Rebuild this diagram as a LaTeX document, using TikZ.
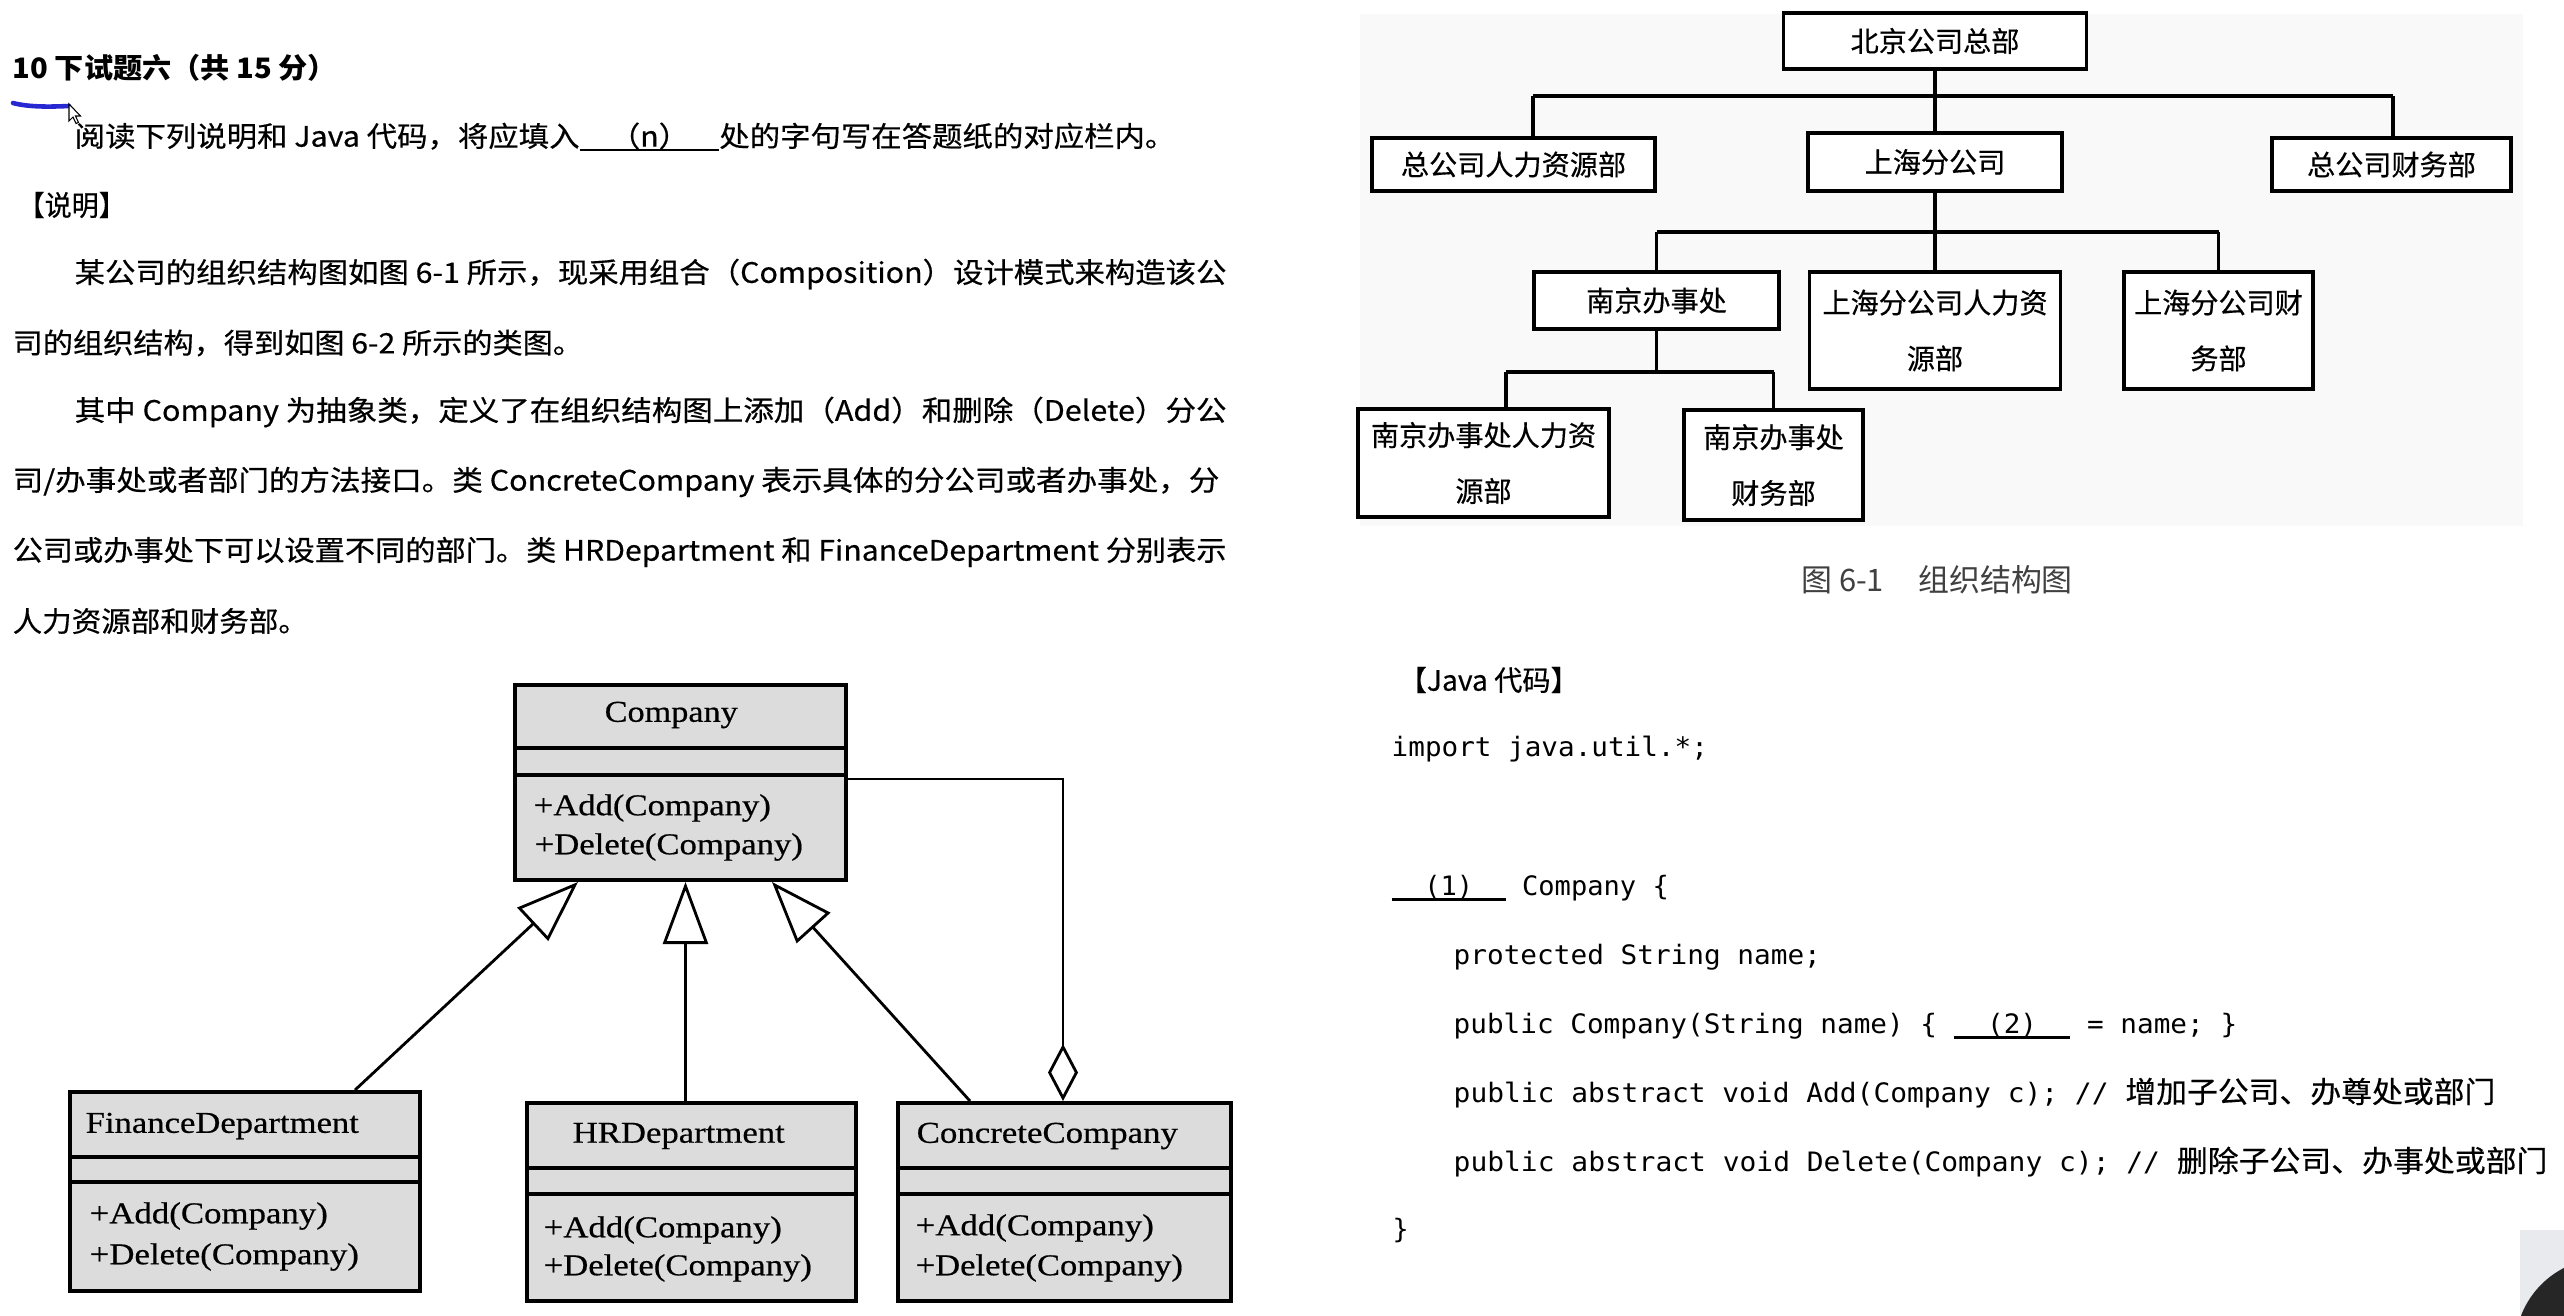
\documentclass[tikz,border=0pt]{standalone}
\usepackage{fontspec}
\usepackage{graphicx}
\usetikzlibrary{arrows.meta}
\setmainfont{Liberation Serif}
\newfontfamily\cjk[FakeBold=0.45]{Noto Sans CJK SC}
\newfontfamily\cjkt{Noto Sans CJK SC}
\newfontfamily\monof{DejaVu Sans Mono}
\newfontfamily\umlf[FakeBold=0.5]{Liberation Serif}
\definecolor{umlfill}{RGB}{220,220,220}
\definecolor{bgorg}{RGB}{249,249,249}
\definecolor{penblue}{RGB}{40,40,210}
\definecolor{camgray}{RGB}{232,234,238}
\newcommand\fitw[2]{\resizebox{#1cm}{\height}{#2}}
\newcommand\bodyblank[1]{\rlap{\rule[-0.17em]{4.6em}{0.1em}}\makebox[4.6em]{#1}}
\newcommand\codeblank[1]{\rlap{\rule[-0.2em]{4.214em}{0.09em}}\makebox[4.214em]{#1}}
\begin{document}
\begin{tikzpicture}[x=0.01cm,y=-0.01cm,
  body/.style={inner sep=0pt, anchor=west, font=\cjk\fontsize{8pt}{9.6pt}\selectfont},
  code/.style={inner sep=0pt, anchor=west, font=\monof\fontsize{7.6pt}{9pt}\selectfont},
  orgbox/.style={draw, line width=0.95pt, inner sep=0pt, align=center, fill=white,
    font=\cjk\fontsize{8pt}{15.9pt}\selectfont},
  bus/.style={line width=1.3pt},
  link/.style={line width=0.9pt},
  umlbox/.style={draw, line width=1.1pt, fill=umlfill, inner sep=0pt},
  umltxt/.style={inner sep=0pt, anchor=west, font=\umlf\fontsize{8.6pt}{10pt}\selectfont},
  sepline/.style={line width=1pt},
  gen/.style={line width=0.8pt, -{Triangle[open, length=0.62cm, width=0.45cm]}},
  agg/.style={line width=0.8pt, -{Diamond[open, length=0.57cm, width=0.30cm]}}
]
\useasboundingbox (0,0) rectangle (2564,1315);
\fill[white] (0,0) rectangle (2564,1315);
\fill[bgorg] (1360,14) rectangle (2523,526);

% ---------- left text ----------
\node[body] (title) at (12,68) {\fitw{3.24}{\cjkt\bfseries 10 下试题六（共 15 分）}};
\draw[penblue, line width=1.3pt, line cap=round] (13,103) .. controls (28,107) and (48,107) .. (69,106);
\draw[black, fill=white, line width=0.3pt] (69,104) -- (69,121) -- (73,117) -- (76,123.5) -- (78.5,122.5) -- (75.5,116) -- (80.5,116) -- cycle;
\node[body] (l1) at (74,137) {\fitw{11.00}{阅读下列说明和 Java 代码，将应填入\bodyblank{（n）}处的字句写在答题纸的对应栏内。}};
\node[body] (sm) at (17,205) {\fitw{1.08}{【说明】}};
\node[body] (p1a) at (74,274) {\fitw{11.51}{某公司的组织结构图如图 6-1 所示，现采用组合（Composition）设计模式来构造该公}};
\node[body] (p1b) at (12,343) {\fitw{5.70}{司的组织结构，得到如图 6-2 所示的类图。}};
\node[body] (p2a) at (74,412) {\fitw{11.51}{其中 Company 为抽象类，定义了在组织结构图上添加（Add）和删除（Delete）分公}};
\node[body] (p2b) at (12,482) {\fitw{12.06}{司/办事处或者部门的方法接口。类 ConcreteCompany 表示具体的分公司或者办事处，分}};
\node[body] (p2c) at (12,552) {\fitw{12.13}{公司或办事处下可以设置不同的部门。类 HRDepartment 和 FinanceDepartment 分别表示}};
\node[body] (p2d) at (12,621) {\fitw{2.95}{人力资源部和财务部。}};

% ---------- org chart ----------
\coordinate (b1L) at (1533,96);
\coordinate (b1R) at (2393,96);
\coordinate (b3L) at (1506,372);
\draw[link] (1935,41) -- (1935,162);
\draw[bus] (b1L) -- (b1R);
\draw[link] (b1L) -- (1533,164);
\draw[link] (b1R) -- (2393,164);

\node[orgbox, minimum width=3.03cm, minimum height=0.56cm] (bj) at (1935,41) {北京公司总部};
\node[orgbox, minimum width=2.83cm, minimum height=0.53cm] (zhr) at (1513.5,164.5) {总公司人力资源部};
\node[orgbox, minimum width=2.54cm, minimum height=0.58cm] (sh) at (1935,162) {上海分公司};
\node[orgbox, minimum width=2.39cm, minimum height=0.53cm] (zfin) at (2391.5,164.5) {总公司财务部};
\node[orgbox, minimum width=2.45cm, minimum height=0.57cm] (nj) at (1656.5,300.5) {南京办事处};
\node[orgbox, minimum width=2.51cm, minimum height=1.17cm] (shhr) at (1935,330.5) {上海分公司人力资\\源部};
\node[orgbox, minimum width=1.89cm, minimum height=1.17cm] (shfin) at (2218.5,330.5) {上海分公司财\\务部};
\node[orgbox, minimum width=2.51cm, minimum height=1.08cm] (njhr) at (1483.5,463) {南京办事处人力资\\源部};
\node[orgbox, minimum width=1.79cm, minimum height=1.10cm] (njfin) at (1773.5,465) {南京办事处\\财务部};

\coordinate (b2L) at (nj.north |- 0,232);
\coordinate (b2R) at (shfin.north |- 0,232);
\coordinate (b3R) at (njfin.north |- 0,372);
\draw[link] (sh.south) -- (shhr.north);
\draw[bus] (b2L) -- (b2R);
\draw[link] (b2L) -- (nj.north);
\draw[link] (b2R) -- (shfin.north);
\draw[link] (nj.south) -- (nj.south |- b3L);
\draw[bus] (b3L) -- (b3R);
\draw[link] (b3L) -- (b3L |- njhr.north);
\draw[link] (b3R) -- (njfin.north);

\node[inner sep=0pt, font=\cjkt\fontsize{8.8pt}{10pt}\selectfont, text=black!75] (cap) at (1937,580) {图 6-1\hspace{1.1em}组织结构图};

% ---------- UML class diagram ----------
\node[umlbox, minimum width=3.31cm, minimum height=1.95cm] (co) at (680.5,782.5) {};
\node[umlbox, minimum width=3.50cm, minimum height=1.99cm] (fin) at (245,1191.5) {};
\node[umlbox, minimum width=3.29cm, minimum height=1.98cm] (hr) at (691.5,1202) {};
\node[umlbox, minimum width=3.33cm, minimum height=1.98cm] (cc) at (1064.5,1202) {};
\foreach \n/\yy in {co/748, co/775, fin/1157, fin/1182, hr/1168, hr/1194, cc/1168, cc/1194}
  \draw[sepline] (\n.west |- 0,\yy) -- (\n.east |- 0,\yy);

\node[umltxt] (coT) at (604,715) {\fitw{1.33}{Company}};
\node[umltxt] (coA) at (533,808) {\fitw{2.37}{+Add(Company)}};
\node[umltxt] (coD) at (534,847) {\fitw{2.68}{+Delete(Company)}};
\node[umltxt] (finT) at (85,1126) {\fitw{2.73}{FinanceDepartment}};
\node[umltxt] (finA) at (89,1216) {\fitw{2.38}{+Add(Company)}};
\node[umltxt] (finD) at (89,1257) {\fitw{2.69}{+Delete(Company)}};
\node[umltxt] (hrT) at (572,1136) {\fitw{2.12}{HRDepartment}};
\node[umltxt] (hrA) at (543,1230) {\fitw{2.38}{+Add(Company)}};
\node[umltxt] (hrD) at (543,1268) {\fitw{2.68}{+Delete(Company)}};
\node[umltxt] (ccT) at (916,1136) {\fitw{2.61}{ConcreteCompany}};
\node[umltxt] (ccA) at (915,1228) {\fitw{2.38}{+Add(Company)}};
\node[umltxt] (ccD) at (915,1268) {\fitw{2.67}{+Delete(Company)}};

\draw[gen] (fin.north -| 355,0) -- (co.south -| 578,0);
\draw[gen] (hr.north -| 685.5,0) -- (co.south -| 685.5,0);
\draw[gen] (cc.north -| 970,0) -- (co.south -| 772,0);
\draw[agg] (co.east |- 0,779) -| (cc.north -| 1063,0);

% ---------- Java code ----------
\node[body] (jh) at (1398,680) {\fitw{1.80}{【Java 代码】}};
\node[code] (c1) at (1391,749) {\fitw{3.16}{import java.util.*;}};
\node[code] (c2) at (1391,888) {\fitw{2.77}{\codeblank{(1)} Company \{}};
\node[code] (c3) at (1453,957) {\fitw{3.67}{protected String name;}};
\node[code] (c4) at (1453,1026) {\fitw{7.83}{public Company(String name) \{ \codeblank{(2)} = name; \}}};
\node[code] (c5) at (1453,1093) {\fitw{10.41}{public abstract void Add(Company c); // {\cjk\fontsize{8.4pt}{10pt}\selectfont 增加子公司、办尊处或部门}}};
\node[code] (c6) at (1453,1162) {\fitw{10.93}{public abstract void Delete(Company c); // {\cjk\fontsize{8.4pt}{10pt}\selectfont 删除子公司、办事处或部门}}};
\node[code] (c7) at (1392,1231) {\}};

% ---------- corner (video overlay) ----------
\begin{scope}
\clip (0,0) rectangle (2564,1315);
\fill[camgray] (2520,1230) rectangle (2564,1315);
\fill[black!85] (2605,1348) circle (90);
\end{scope}
\end{tikzpicture}
\end{document}
